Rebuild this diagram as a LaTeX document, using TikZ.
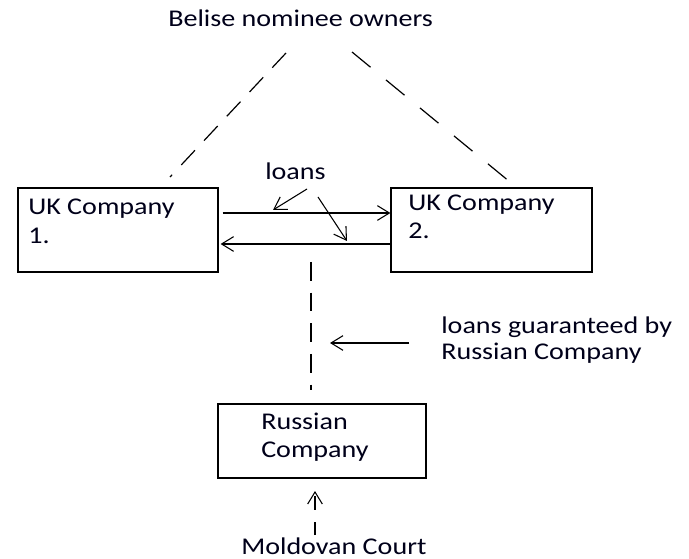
\documentclass[tikz,border=0pt]{standalone}
\usepackage{fontspec}
\setmainfont[FakeStretch=1.17]{Carlito}
\usetikzlibrary{arrows.meta}
\begin{document}
\begin{tikzpicture}[x=0.75pt,y=-0.75pt,
  box/.style={draw,line width=0.9pt,inner sep=0,minimum width=#1},
  lbl/.style={anchor=base west,inner sep=0,font=\fontsize{18}{21}\selectfont,text=black!90!blue},
  arr/.style={line width=0.8pt,-{Straight Barb[length=9pt,width=11pt,line width=0.8pt]}},
  dsh/.style={line width=0.9pt,dash pattern=on 15pt off 10pt}]
\useasboundingbox (0,0) rectangle (689,559);
% boxes
\node[box=150pt,minimum height=63pt] (uk1) at (118,230) {};
\node[box=150.75pt,minimum height=63pt] (uk2) at (491.5,230) {};
\node[box=156pt,minimum height=55.5pt] (rus) at (322,441) {};
% texts
\node[lbl] (bel) at (168,27) {Belise nominee owners};
\node[lbl] (uk1a) at (28,215) {UK Company};
\node[lbl] (uk1b) at (28,244) {1.};
\node[lbl] (uk2a) at (408,211) {UK Company};
\node[lbl] (uk2b) at (408,239) {2.};
\node[lbl] (loans) at (265,180) {loans};
\node[lbl] (g1) at (441,334) {loans guaranteed by};
\node[lbl] (g2) at (441,360) {Russian Company};
\node[lbl] (rusa) at (261,430) {Russian};
\node[lbl] (rusb) at (261,457) {Company};
\node[lbl] (mold) at (241,554) {Moldovan Court};
% coordinates
\coordinate (bl1) at (286,53);
\coordinate (bl2) at (170,177);
\coordinate (br1) at (352,52);
\coordinate (br2) at (510,182);
\coordinate (la1) at (307,189);
\coordinate (la2) at (273,210);
\coordinate (lb1) at (318,197);
\coordinate (lb2) at (347,241);
\coordinate (vt) at (311,262);
\coordinate (vb) at (311,390);
\coordinate (ga) at (409,343);
\coordinate (gb) at (330,343);
\coordinate (ma) at (315,535);
\coordinate (mb) at (315,491);
% ownership
\draw[dsh] (bl1) -- (bl2);
\draw[dsh,dash pattern=on 18pt off 15pt] (br1) -- (br2);
% loans between companies
\draw[arr] (uk1.east |- 0,213) ++(4,0) -- (uk2.west |- 0,213);
\draw[arr] (uk2.west |- 0,244) -- ([xshift=1.5pt]uk1.east |- 0,244);
\draw[arr] (la1) -- (la2);
\draw[arr] (lb1) -- (lb2);
% guarantee
\draw[line width=0.9pt,dash pattern=on 14pt off 9pt] (vt) -- (vb);
\draw[arr] (ga) -- (gb);
% court
\draw[arr,dash pattern=on 10pt off 9pt] (ma) -- (mb);
\end{tikzpicture}
\end{document}
